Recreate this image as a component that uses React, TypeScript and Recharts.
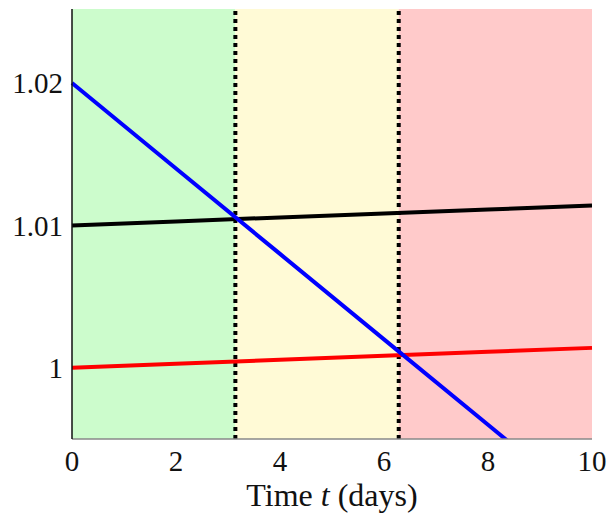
import {
  LineChart,
  Line,
  XAxis,
  YAxis,
  ReferenceArea,
  ReferenceLine,
} from "recharts";

// time (days)
const T = [0, 2, 4, 6, 8, 10];
const BLUE = [1.02, 1.014, 1.008, 1.002, 0.996, 0.99];
const BLACK = [1.01, 1.01028, 1.01056, 1.01084, 1.01112, 1.0114];
const RED = [1.0, 1.00028, 1.00056, 1.00084, 1.00112, 1.0014];

const X_TICKS = [0, 2, 4, 6, 8, 10];
const Y_TICKS = [1, 1.01, 1.02];
// phase boundaries (pi, 2pi)
const BOUNDS = [3.1416, 6.2832];

const data = T.map((t, i) => ({ t, blue: BLUE[i], black: BLACK[i], red: RED[i] }));

const FONT = "'Liberation Serif', 'DejaVu Serif', serif";

function AxisLabel(props: any) {
  const vb = props.viewBox || {};
  const cx = vb.x + vb.width / 2;
  return (
    <text x={cx} y={506} textAnchor="middle" fontFamily={FONT} fontSize={32} fill="#111">
      Time <tspan fontStyle="italic">t</tspan> (days)
    </text>
  );
}

export default function App() {
  return (
    <div style={{ position: "absolute", left: 0, top: 0, background: "#fff" }}>
      <LineChart
        width={607}
        height={516}
        data={data}
        margin={{ top: 9, right: 15, left: 0, bottom: 0 }}
      >
        <ReferenceArea x1={0} x2={BOUNDS[0]} fill="#ccfccc" fillOpacity={1} stroke="none" />
        <ReferenceArea x1={BOUNDS[0]} x2={BOUNDS[1]} fill="#fffad6" fillOpacity={1} stroke="none" />
        <ReferenceArea x1={BOUNDS[1]} x2={10} fill="#ffcaca" fillOpacity={1} stroke="none" />
        <XAxis
          dataKey="t"
          type="number"
          domain={[0, 10]}
          ticks={X_TICKS}
          height={77}
          axisLine={{ stroke: "#888", strokeWidth: 1.5 }}
          tickLine={false}
          tickMargin={5}
          tick={{ fontSize: 29, fill: "#111", fontFamily: FONT }}
          label={<AxisLabel />}
        />
        <YAxis
          type="number"
          domain={[0.995, 1.0252]}
          ticks={Y_TICKS}
          allowDataOverflow
          width={72}
          axisLine={{ stroke: "#111", strokeWidth: 1.5 }}
          tickLine={false}
          tickMargin={3}
          tickFormatter={(v: number) => (v === 1 ? "1" : v.toFixed(2))}
          tick={{ fontSize: 29, fill: "#111", fontFamily: FONT }}
        />
        {BOUNDS.map((b, i) => (
          <ReferenceLine
            key={`b-${i}`}
            x={b}
            stroke="#000"
            strokeWidth={4}
            strokeDasharray="4 4"
          />
        ))}
        <Line type="linear" dataKey="red" stroke="#ff0000" strokeWidth={4} dot={false} isAnimationActive={false} />
        <Line type="linear" dataKey="black" stroke="#000000" strokeWidth={4} dot={false} isAnimationActive={false} />
        <Line type="linear" dataKey="blue" stroke="#0000ff" strokeWidth={4} dot={false} isAnimationActive={false} />
      </LineChart>
    </div>
  );
}
